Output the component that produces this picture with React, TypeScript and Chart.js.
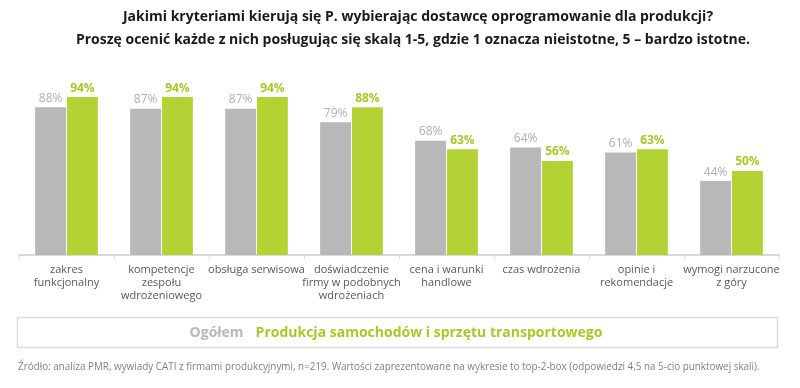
import React, { useEffect, useRef } from "react";
import { Chart, registerables } from "chart.js";

Chart.register(...registerables);

const titleLines = [
  "Jakimi kryteriami kierują się P. wybierając dostawcę oprogramowanie dla produkcji?",
  "Proszę ocenić każde z nich posługując się skalą 1-5, gdzie 1 oznacza nieistotne, 5 – bardzo istotne.",
];

const categories: string[][] = [
  ["zakres", "funkcjonalny"],
  ["kompetencje", "zespołu", "wdrożeniowego"],
  ["obsługa serwisowa"],
  ["doświadczenie", "firmy w podobnych", "wdrożeniach"],
  ["cena i warunki", "handlowe"],
  ["czas wdrożenia"],
  ["opinie i", "rekomendacje"],
  ["wymogi narzucone", "z góry"],
];

const seriesNames = ["Ogółem", "Produkcja samochodów i sprzętu transportowego"];
const overall = [88, 87, 87, 79, 68, 64, 61, 44];
const automotive = [94, 94, 94, 88, 63, 56, 63, 50];

const footnote =
  "Źródło: analiza PMR, wywiady CATI z firmami produkcyjnymi, n=219. Wartości zaprezentowane na wykresie to top-2-box (odpowiedzi 4,5 na 5-cio punktowej skali).";

const GRAY = "#b8b8b8";
const GREEN = "#b3d334";
const GRAY_TEXT = "#b0b0b0";
const GREEN_TEXT = "#a8c82a";
const FONT = "'Open Sans', 'DejaVu Sans', sans-serif";

const decorPlugin = {
  id: "decor",
  afterDraw(chart: any) {
    const ctx = chart.ctx as CanvasRenderingContext2D;
    ctx.save();
    // Title
    ctx.fillStyle = "#1a1a1a";
    ctx.font = `bold 14px ${FONT}`;
    ctx.textAlign = "center";
    ctx.textBaseline = "middle";
    ctx.fillText(titleLines[0], 418, 17);
    ctx.fillText(titleLines[1], 413, 40);

    // Data labels
    const dsColors = [GRAY_TEXT, GREEN_TEXT];
    const dsWeights = ["normal", "bold"];
    chart.data.datasets.forEach((ds: any, di: number) => {
      const meta = chart.getDatasetMeta(di);
      ctx.fillStyle = dsColors[di];
      ctx.font = `${dsWeights[di]} 12px ${FONT}`;
      ctx.textAlign = "center";
      ctx.textBaseline = "bottom";
      meta.data.forEach((bar: any, i: number) => {
        ctx.fillText(ds.data[i] + "%", bar.x, bar.y - 3);
      });
    });

    // Legend box
    ctx.strokeStyle = "#dcdcdc";
    ctx.lineWidth = 1.5;
    ctx.strokeRect(17.5, 317.5, 760, 30);
    ctx.textAlign = "left";
    ctx.textBaseline = "middle";
    ctx.font = `bold 14px ${FONT}`;
    const w0 = ctx.measureText(seriesNames[0]).width;
    const gap = 12;
    const w1 = ctx.measureText(seriesNames[1]).width;
    const total = w0 + gap + w1;
    let x = 396 - total / 2;
    ctx.fillStyle = GRAY;
    ctx.fillText(seriesNames[0], x, 333);
    x += w0 + gap;
    ctx.fillStyle = GREEN_TEXT;
    ctx.fillText(seriesNames[1], x, 333);

    // Footnote
    ctx.fillStyle = "#808080";
    ctx.font = `9.9px ${FONT}`;
    ctx.textAlign = "left";
    ctx.fillText(footnote, 18, 367);
    ctx.restore();
  },
};

export default function App() {
  const ref = useRef<HTMLCanvasElement>(null);
  useEffect(() => {
    if (!ref.current) return;
    const chart = new Chart(ref.current, {
      type: "bar",
      data: {
        labels: categories,
        datasets: [
          {
            label: seriesNames[0],
            data: overall,
            backgroundColor: GRAY,
            categoryPercentage: 0.67,
            barPercentage: 0.97,
          },
          {
            label: seriesNames[1],
            data: automotive,
            backgroundColor: GREEN,
            categoryPercentage: 0.67,
            barPercentage: 0.97,
          },
        ],
      },
      options: {
        responsive: false,
        animation: false,
        layout: { padding: { top: 87, left: 19, right: 21, bottom: 73 } },
        plugins: {
          legend: { display: false },
          title: { display: false },
          tooltip: { enabled: false },
        },
        scales: {
          y: { display: false, min: 0, max: 100 },
          x: {
            afterFit: (scale: any) => {
              scale.height = 60;
            },
            grid: {
              display: true,
              drawOnChartArea: false,
              drawTicks: true,
              tickLength: 4,
              color: "#d9d9d9",
              offset: true,
            },
            border: { display: true, color: "#d9d9d9", width: 2 },
            ticks: {
              color: "#595959",
              font: { family: FONT, size: 11 },
              padding: 4,
              maxRotation: 0,
              autoSkip: false,
            },
          },
        },
      },
      plugins: [decorPlugin],
    });
    return () => chart.destroy();
  }, []);
  return (
    <div style={{ position: "absolute", left: 0, top: 0, width: 800, height: 388, background: "#fff" }}>
      <canvas ref={ref} width={800} height={388} />
    </div>
  );
}
